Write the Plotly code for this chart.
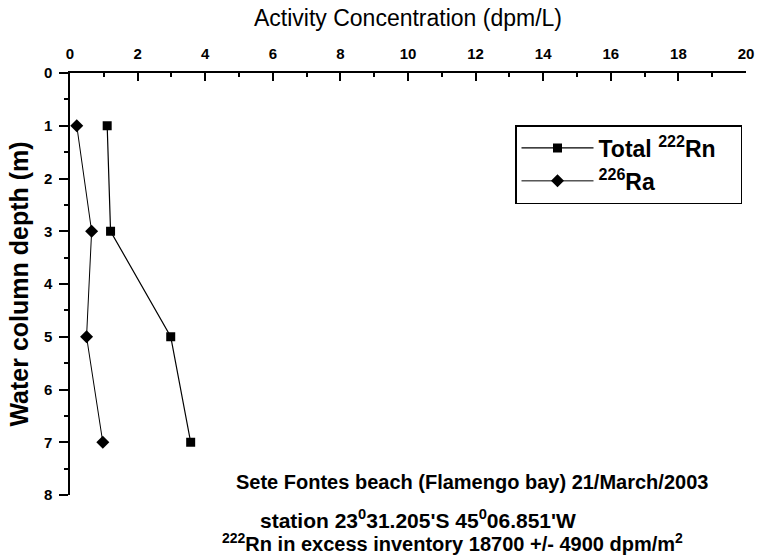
import plotly.graph_objects as go

depth = [1, 3, 5, 7]
rn_total = [1.1, 1.2, 2.98, 3.57]
ra_226 = [0.2, 0.64, 0.49, 0.97]

x_ticks = list(range(0, 21, 2))
y_ticks = list(range(0, 9))

FONT = "Liberation Sans, Arial, sans-serif"

W, H = 757, 557
ML, MR, MT, MB = 70, 11, 73, 62
PLOT_W = W - ML - MR
PLOT_H = H - MT - MB

fig = go.Figure()

fig.add_trace(
    go.Scatter(
        x=rn_total,
        y=depth,
        mode="lines+markers",
        name="Total <sup>222</sup>Rn\u00a0\u00a0\u00a0",
        line=dict(color="black", width=1.2),
        marker=dict(symbol="square", size=9, color="black"),
    )
)

fig.add_trace(
    go.Scatter(
        x=ra_226,
        y=depth,
        mode="lines+markers",
        name="<sup>226</sup>Ra",
        line=dict(color="black", width=1),
        marker=dict(symbol="diamond", size=10, color="black"),
    )
)

# text block under the profile: (text, centre x px, centre y px, size)
notes = [
    ("<b>Sete Fontes beach (Flamengo bay) 21/March/2003</b>", 472, 482, 20),
    ("<b>station 23<sup>0</sup>31.205'S 45<sup>0</sup>06.851'W</b>", 418, 519, 21),
    ("<b><sup>222</sup>Rn in excess inventory 18700 +/- 4900 dpm/m<sup>2</sup></b>", 452, 542, 20),
]
for text, xpx, ypx, size in notes:
    fig.add_annotation(
        text=text,
        xref="paper",
        yref="paper",
        x=(xpx - ML) / PLOT_W,
        y=(H - MB - ypx) / PLOT_H,
        xanchor="center",
        yanchor="middle",
        showarrow=False,
        font=dict(family=FONT, size=size, color="black"),
    )

fig.update_layout(
    width=W,
    height=H,
    margin=dict(l=ML, r=MR, t=MT, b=MB),
    paper_bgcolor="white",
    plot_bgcolor="white",
    font=dict(family=FONT, color="black"),
    showlegend=True,
    legend=dict(
        x=(515 - ML) / PLOT_W,
        y=1 - (125 - MT) / PLOT_H,
        xanchor="left",
        yanchor="top",
        bordercolor="black",
        borderwidth=1.5,
        bgcolor="white",
        font=dict(family=FONT, size=23, color="black", weight="bold"),
        itemwidth=72,
    ),
    xaxis=dict(
        side="top",
        range=[0, 20],
        tickvals=x_ticks,
        ticks="inside",
        ticklen=8,
        tickwidth=1.5,
        tickcolor="black",
        minor=dict(dtick=1, ticks="inside", ticklen=4, tickcolor="black"),
        showline=True,
        linecolor="black",
        linewidth=1.5,
        showgrid=False,
        zeroline=False,
        automargin=False,
        ticklabelstandoff=6,
        tickfont=dict(family=FONT, size=15, color="black", weight="bold"),
        title=dict(
            text="Activity Concentration (dpm/L)",
            font=dict(family=FONT, size=23, color="black"),
            standoff=12,
        ),
    ),
    yaxis=dict(
        range=[8, 0],
        tickvals=y_ticks,
        ticks="outside",
        ticklen=9,
        tickwidth=1.5,
        tickcolor="black",
        minor=dict(dtick=0.5, ticks="outside", ticklen=4, tickcolor="black"),
        showline=True,
        linecolor="black",
        linewidth=1.5,
        showgrid=False,
        zeroline=False,
        automargin=False,
        ticklabelstandoff=4,
        tickfont=dict(family=FONT, size=15, color="black", weight="bold"),
        title=dict(
            text="<b>Water column depth (m)</b>",
            font=dict(family=FONT, size=25, color="black"),
            standoff=8,
        ),
    ),
)

# drop the browser's default 8px body margin so the figure fills the window
fig.write_html(
    "out.html",
    config={"displayModeBar": False},
    post_script="document.body.style.margin='0';",
)
